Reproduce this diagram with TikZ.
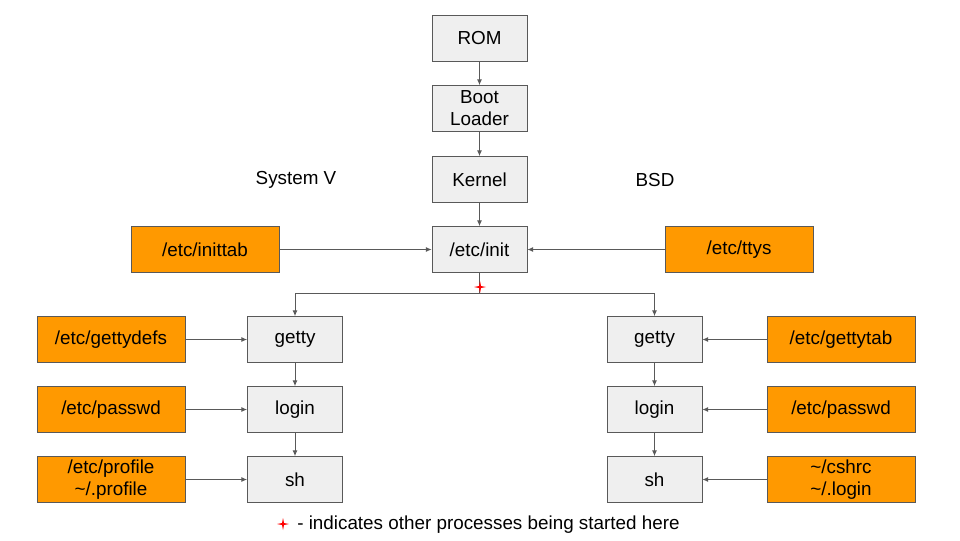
\documentclass[tikz,border=0pt]{standalone}
\usepackage{fontspec}
\setmainfont{Liberation Sans}
\usetikzlibrary{arrows.meta}
\definecolor{boxgray}{HTML}{EFEFEF}
\definecolor{linegray}{HTML}{595959}
\definecolor{filecol}{HTML}{FF9900}
\begin{document}
\begin{tikzpicture}[x=0.025cm,y=-0.025cm,
    font=\fontsize{13.4pt}{15.6pt}\selectfont,
    proc/.style={draw=linegray,line width=0.6pt,fill=boxgray,minimum width=2.375cm,minimum height=1.15cm,align=center,inner sep=0pt},
    cfg/.style={draw=linegray,line width=0.6pt,fill=filecol,minimum width=3.7cm,minimum height=1.15cm,align=center,inner sep=0pt},
    feed/.style={draw=linegray,line width=0.6pt,-{Latex[length=4pt,width=3.5pt]}},
    spark/.pic={\fill[red] (0,-6) -- (1,-1) -- (6,0) -- (1,1) -- (0,6) -- (-1,1) -- (-6,0) -- (-1,-1) -- cycle;}]
        \useasboundingbox (0,0) rectangle (960,540);
        % boot chain
        \node[proc] (rom) at (479.5,38.5) {ROM};
        \node[proc] (boot) at (479.5,108.5) {Boot\\Loader};
        \node[proc] (kernel) at (479.5,179.5) {Kernel};
        \node[proc] (init) at (479.5,249.5) {/etc/init};
        \node[cfg] (inittab) at (205,249.5) {/etc/inittab};
        \node[cfg] (ttys) at (739,249.5) {/etc/ttys};
        \node (sysv) at (296,180) {System V};
        \node (bsd) at (655,180) {BSD};
        % System V side
        \node[proc] (lgetty) at (295,339.5) {getty};
        \node[proc] (llogin) at (295,409.5) {login};
        \node[proc] (lsh) at (295,479.5) {sh};
        \node[cfg] (gettydefs) at (111,339.5) {/etc/gettydefs};
        \node[cfg] (lpasswd) at (111,409.5) {/etc/passwd};
        \node[cfg] (profile) at (111,479.5) {/etc/profile\\\textasciitilde/.profile};
        % BSD side
        \node[proc] (rgetty) at (654.5,339.5) {getty};
        \node[proc] (rlogin) at (654.5,409.5) {login};
        \node[proc] (rsh) at (654.5,479.5) {sh};
        \node[cfg] (gettytab) at (841,339.5) {/etc/gettytab};
        \node[cfg] (rpasswd) at (841,409.5) {/etc/passwd};
        \node[cfg] (cshrc) at (841,479.5) {\textasciitilde/cshrc\\\textasciitilde/.login};
        \coordinate (fork) at (479.5,293);
        % connectors
        \draw[feed] (rom) -- (boot);
        \draw[feed] (boot) -- (kernel);
        \draw[feed] (kernel) -- (init);
        \draw[feed] (inittab) -- (init);
        \draw[feed] (ttys) -- (init);
        \draw[feed] (init) -- (fork) -| (lgetty);
        \draw[feed] (init) -- (fork) -| (rgetty);
        \draw[feed] (lgetty) -- (llogin);
        \draw[feed] (llogin) -- (lsh);
        \draw[feed] (rgetty) -- (rlogin);
        \draw[feed] (rlogin) -- (rsh);
        \draw[feed] (gettydefs) -- (lgetty);
        \draw[feed] (lpasswd) -- (llogin);
        \draw[feed] (profile) -- (lsh);
        \draw[feed] (gettytab) -- (rgetty);
        \draw[feed] (rpasswd) -- (rlogin);
        \draw[feed] (cshrc) -- (rsh);
        \pic at (480,287) {spark};
        % legend
        \pic at (283,524) {spark};
        \node[anchor=west,inner sep=0pt] (legend) at (297,525) {- indicates other processes being started here};
    \end{tikzpicture}
\end{document}
